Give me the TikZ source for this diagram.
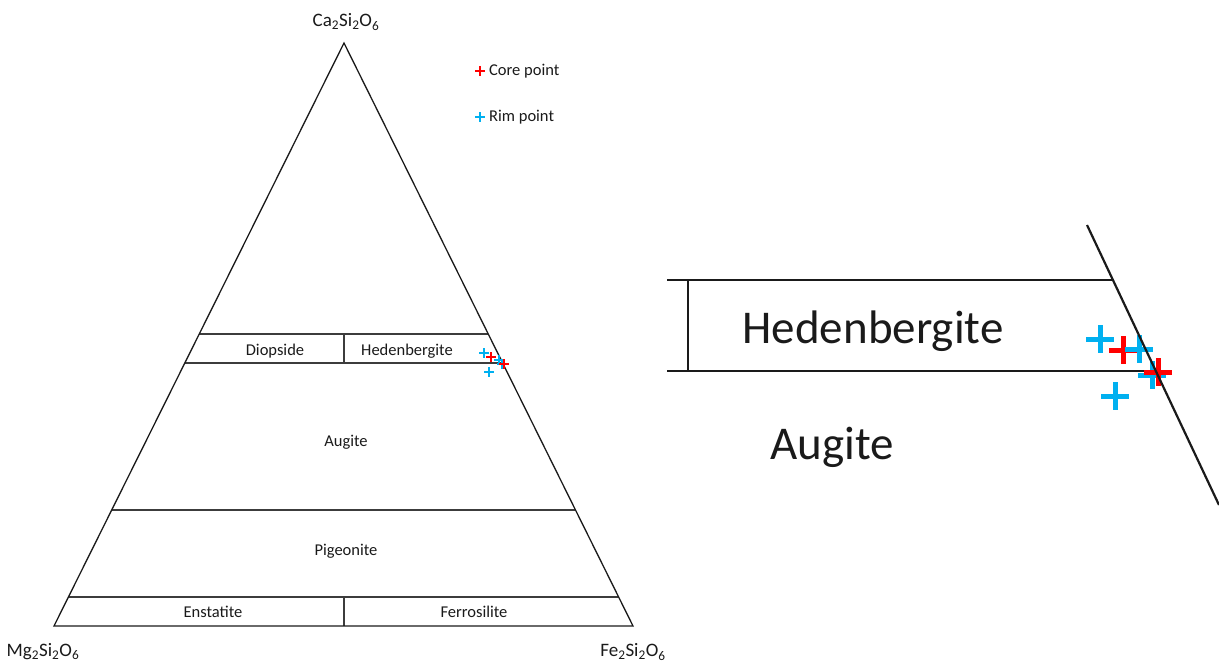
\documentclass[tikz,border=0pt]{standalone}
\usepackage{fontspec}
\setmainfont{Carlito}
\usetikzlibrary{calc}
\definecolor{corered}{HTML}{FF0000}
\definecolor{rimblue}{HTML}{00B0F0}
\definecolor{ink}{HTML}{1A1A1A}
\tikzset{
  edge/.style={draw=ink,line width=1.3pt},
  band/.style={draw=ink!85,line width=1.3pt},
  lbl/.style={text=ink,inner sep=0pt,font=\fontsize{16.5}{19}\selectfont},
  formula/.style={text=ink,inner sep=0pt,font=\fontsize{19}{22}\selectfont},
  biglbl/.style={text=ink,inner sep=0pt,font=\fontsize{47}{54}\selectfont},
  bigedge/.style={draw=ink,line width=2.2pt},
  smallplus/.pic={\draw (-5,0)--(5,0) (0,-5)--(0,5);},
  bigplus/.pic={\draw (-14,0)--(14,0) (0,-14)--(0,14);},
  core/.style={draw=corered,line width=2pt},
  rim/.style={draw=rimblue,line width=2pt},
  corebig/.style={draw=corered,line width=5pt},
  rimbig/.style={draw=rimblue,line width=5pt},
}
\begin{document}
\begin{tikzpicture}[x=1pt,y=-1pt]
\useasboundingbox (0,0) rectangle (1219,669);
% corners
\coordinate (A) at (344,43);
\coordinate (L) at (54,626);
\coordinate (R) at (633,626);
% band end points
\coordinate (l1) at ($(A)!0.4991!(L)$);
\coordinate (r1) at ($(A)!0.4991!(R)$);
\coordinate (l2) at ($(A)!0.5489!(L)$);
\coordinate (r2) at ($(A)!0.5489!(R)$);
\coordinate (l3) at ($(A)!0.8010!(L)$);
\coordinate (r3) at ($(A)!0.8010!(R)$);
\coordinate (l4) at ($(A)!0.9503!(L)$);
\coordinate (r4) at ($(A)!0.9503!(R)$);
\coordinate (d1t) at (344,334);
\coordinate (d1b) at (344,363);
\coordinate (d2t) at (344,597);
\coordinate (d2b) at (344,626);
% bands
\draw[band] (l1) -- (r1);
\draw[band] (l2) -- (r2);
\draw[band] (l3) -- (r3);
\draw[band] (l4) -- (r4);
\draw[band] (d1t) -- (d1b);
\draw[band] (d2t) -- (d2b);
% triangle
\draw[edge,line join=miter] (A) -- (L) -- (R) -- cycle;
% labels
\node[formula] (ca) at (346,22) {Ca\textsubscript{2}Si\textsubscript{2}O\textsubscript{6}};
\node[formula] (mg) at (43,652) {Mg\textsubscript{2}Si\textsubscript{2}O\textsubscript{6}};
\node[formula] (fe) at (633,652) {Fe\textsubscript{2}Si\textsubscript{2}O\textsubscript{6}};
\node[lbl] (di) at (275,351) {Diopside};
\node[lbl] (hd) at (407,351) {Hedenbergite};
\node[lbl] (au) at (346,442) {Augite};
\node[lbl] (pg) at (346,551) {Pigeonite};
\node[lbl] (en) at (213,612) {Enstatite};
\node[lbl] (fs) at (474,612) {Ferrosilite};
% legend
\pic[core] at (480,71) {smallplus};
\node[lbl,anchor=west] (corelbl) at (489,71) {Core point};
\pic[rim] at (480,117) {smallplus};
\node[lbl,anchor=west] (rimlbl) at (489,117) {Rim point};
% data points (main)
\pic[rim] at (484,353) {smallplus};
\pic[core] at (491,357) {smallplus};
\pic[rim] at (499,360) {smallplus};
\pic[rim] at (502,364) {smallplus};
\pic[core] at (504,364) {smallplus};
\pic[rim] at (489,372) {smallplus};
% inset
\coordinate (it0) at (667,280);
\coordinate (it1) at (1113,280);
\coordinate (ib0) at (667,371);
\coordinate (ib1) at (1156,371);
\coordinate (iv0) at (688,280);
\coordinate (iv1) at (688,371);
\coordinate (is0) at (1087,225);
\coordinate (is1) at (1219,505);
\draw[bigedge] (it0) -- (it1);
\draw[bigedge] (ib0) -- (ib1);
\draw[bigedge] (iv0) -- (iv1);
\node[biglbl] (ihd) at (873,331) {Hedenbergite};
\node[biglbl] (iau) at (832,447) {Augite};
\pic[rimbig] at (1100,339) {bigplus};
\pic[corebig] at (1123,350) {bigplus};
\pic[rimbig] at (1139,349) {bigplus};
\pic[rimbig] at (1152,375) {bigplus};
\pic[corebig] at (1158,372) {bigplus};
\pic[rimbig] at (1115,396) {bigplus};
\draw[bigedge] (is0) -- (is1);
\end{tikzpicture}
\end{document}
